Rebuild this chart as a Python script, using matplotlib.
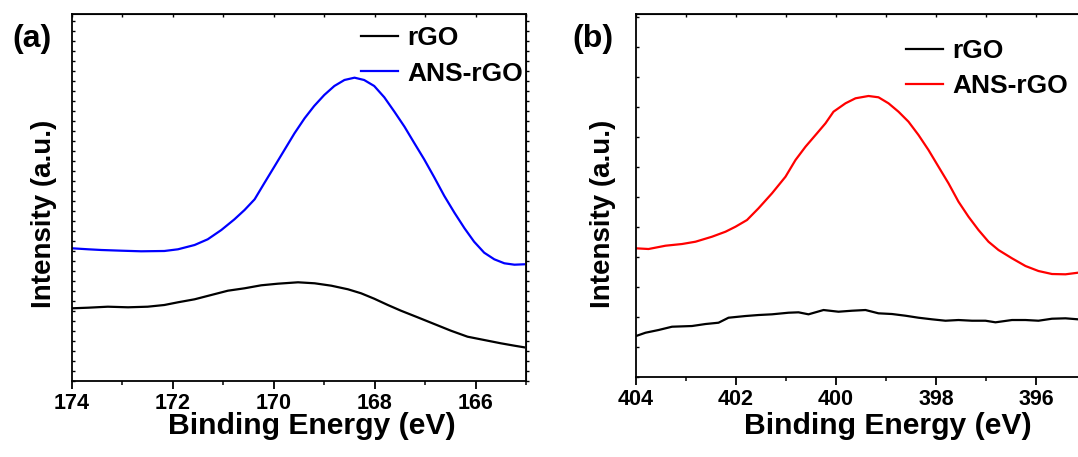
import matplotlib
matplotlib.use("Agg")
import matplotlib.pyplot as plt
from matplotlib.ticker import MultipleLocator, NullFormatter

plt.rcParams["font.family"] = ["Liberation Sans", "DejaVu Sans"]
plt.rcParams["font.weight"] = "bold"

# (a) S 2p region
s_energy_ans = [174.00, 173.68, 173.42, 173.02, 172.63, 172.17, 171.90, 171.57, 171.31, 171.04,
                170.78, 170.58, 170.38, 170.19, 169.99, 169.79, 169.59, 169.39, 169.20, 169.00,
                168.80, 168.60, 168.40, 168.21, 168.01, 167.81, 167.61, 167.41, 167.22, 167.02,
                166.82, 166.62, 166.42, 166.22, 166.03, 165.83, 165.63, 165.43, 165.23, 165.04]
s_ans = [132.7, 131.7, 131.0, 130.3, 129.7, 130.0, 131.7, 136.0, 141.7, 151.0,
         161.7, 171.0, 181.7, 197.7, 214.3, 231.0, 247.7, 262.7, 275.0, 286.0,
         295.0, 301.0, 303.3, 301.0, 295.0, 283.7, 269.3, 254.3, 238.3, 221.7,
         203.7, 185.0, 168.3, 152.7, 139.3, 128.3, 121.7, 117.7, 116.3, 116.7]
s_energy_rgo = [174.00, 173.68, 173.29, 172.89, 172.50, 172.17, 171.90, 171.57, 171.24, 170.91,
                170.58, 170.25, 169.92, 169.52, 169.19, 168.86, 168.53, 168.27, 168.01, 167.74,
                167.48, 167.15, 166.82, 166.49, 166.16, 165.83, 165.50, 165.23, 165.04]
s_rgo = [72.7, 73.3, 74.3, 73.7, 74.3, 76.0, 78.7, 81.7, 86.0, 90.3,
         92.7, 95.7, 97.3, 98.7, 97.7, 95.3, 91.7, 87.7, 82.3, 76.0,
         70.3, 63.7, 57.0, 50.3, 44.3, 41.0, 37.7, 35.3, 33.7]

# (b) N 1s region
n_energy_ans = [404.00, 403.75, 403.41, 403.08, 402.81, 402.48, 402.21, 402.01, 401.78, 401.55,
                401.28, 401.01, 400.81, 400.61, 400.38, 400.21, 400.05, 399.81, 399.61, 399.35,
                399.15, 398.95, 398.75, 398.55, 398.35, 398.15, 397.95, 397.75, 397.55, 397.35,
                397.15, 396.95, 396.75, 396.48, 396.21, 395.95, 395.68, 395.41, 395.16]
n_ans = [128.7, 128.0, 131.3, 133.0, 135.3, 140.3, 145.3, 150.3, 157.0, 168.7,
         183.7, 200.3, 217.0, 230.3, 243.7, 253.7, 265.3, 273.7, 278.7, 281.0,
         279.7, 273.7, 265.3, 255.3, 242.0, 227.0, 210.3, 193.7, 175.3, 160.3,
         147.0, 135.3, 127.0, 118.7, 111.0, 106.0, 103.0, 102.7, 104.3]
n_energy_rgo = [404.00, 403.81, 403.55, 403.28, 402.88, 402.61, 402.35, 402.15, 401.81, 401.55,
                401.28, 400.95, 400.75, 400.55, 400.25, 399.95, 399.68, 399.41, 399.15, 398.88,
                398.61, 398.35, 398.08, 397.81, 397.55, 397.28, 397.01, 396.81, 396.48, 396.21,
                395.95, 395.68, 395.41, 395.16]
n_rgo = [41.0, 44.3, 47.0, 50.3, 51.0, 53.0, 54.3, 59.3, 61.0, 62.0,
         62.7, 64.3, 64.7, 62.7, 67.0, 65.3, 66.3, 67.0, 63.7, 63.0,
         61.3, 59.3, 57.7, 56.3, 57.0, 56.3, 56.3, 54.7, 57.0, 57.0,
         56.3, 58.3, 58.7, 57.7]

fig = plt.figure(figsize=(10.78, 4.57), dpi=100)
ax1 = fig.add_axes([0.0668, 0.1663, 0.4212, 0.8031])
ax2 = fig.add_axes([0.59, 0.175, 0.4174, 0.7944])


def style(ax, xlim, ylim, ystep, right_out):
    ax.set_xlim(*xlim)
    ax.set_ylim(*ylim)
    for s in ax.spines.values():
        s.set_linewidth(1.3)
    ax.xaxis.set_major_locator(MultipleLocator(2))
    ax.xaxis.set_minor_locator(MultipleLocator(1))
    ax.tick_params(axis="x", which="major", direction="out", length=6, width=1.3,
                   labelsize=15.5, pad=2.5)
    ax.tick_params(axis="x", which="minor", direction="out", length=3, width=1.1)
    ax.yaxis.set_major_locator(MultipleLocator(ystep))
    ax.yaxis.set_major_formatter(NullFormatter())
    ax.tick_params(axis="y", direction="in", length=2.5, width=1.0)
    top = ax.secondary_xaxis("top")
    top.xaxis.set_major_locator(MultipleLocator(1))
    top.xaxis.set_major_formatter(NullFormatter())
    top.tick_params(direction="in", length=2.5, width=1.0)
    if right_out:
        rgt = ax.secondary_yaxis("right")
        rgt.yaxis.set_major_locator(MultipleLocator(ystep))
        rgt.yaxis.set_major_formatter(NullFormatter())
        rgt.tick_params(direction="out", length=2.5, width=1.0)
    for lab in ax.get_xticklabels():
        lab.set_fontweight("bold")


ax1.plot(s_energy_rgo, s_rgo, color="black", lw=1.6, label="rGO")
ax1.plot(s_energy_ans, s_ans, color="#0000ff", lw=1.6, label="ANS-rGO")
style(ax1, (174, 165), (0, 367), 10, True)

ax2.plot(n_energy_rgo, n_rgo, color="black", lw=1.6, label="rGO")
ax2.plot(n_energy_ans, n_ans, color="#ff0000", lw=1.6, label="ANS-rGO")
style(ax2, (404, 395), (0, 363), 30, False)

for ax, lx, ly, yx, yy, bx, by in [(ax1, 0.529, -0.085, -0.034, 0.455, 0.614, 0.995),
                                   (ax2, 0.56, -0.097, -0.045, 0.45, 0.576, 0.96)]:
    ax.set_xlabel("Binding Energy (eV)", fontsize=21.7, fontweight="bold")
    ax.xaxis.set_label_coords(lx, ly)
    ax.set_ylabel("Intensity (a.u.)", fontsize=20, fontweight="bold")
    ax.yaxis.set_label_coords(yx, yy)
    ax.legend(loc="upper left", bbox_to_anchor=(bx, by), frameon=False,
              prop={"size": 19, "weight": "bold"}, handlelength=1.4,
              handletextpad=0.35, labelspacing=0.43, borderaxespad=0)

fig.text(12 / 1078, 1 - 47 / 457, "(a)", fontsize=23, fontweight="bold")
fig.text(572 / 1078, 1 - 47 / 457, "(b)", fontsize=23, fontweight="bold")

fig.savefig("out.png", dpi=100)
